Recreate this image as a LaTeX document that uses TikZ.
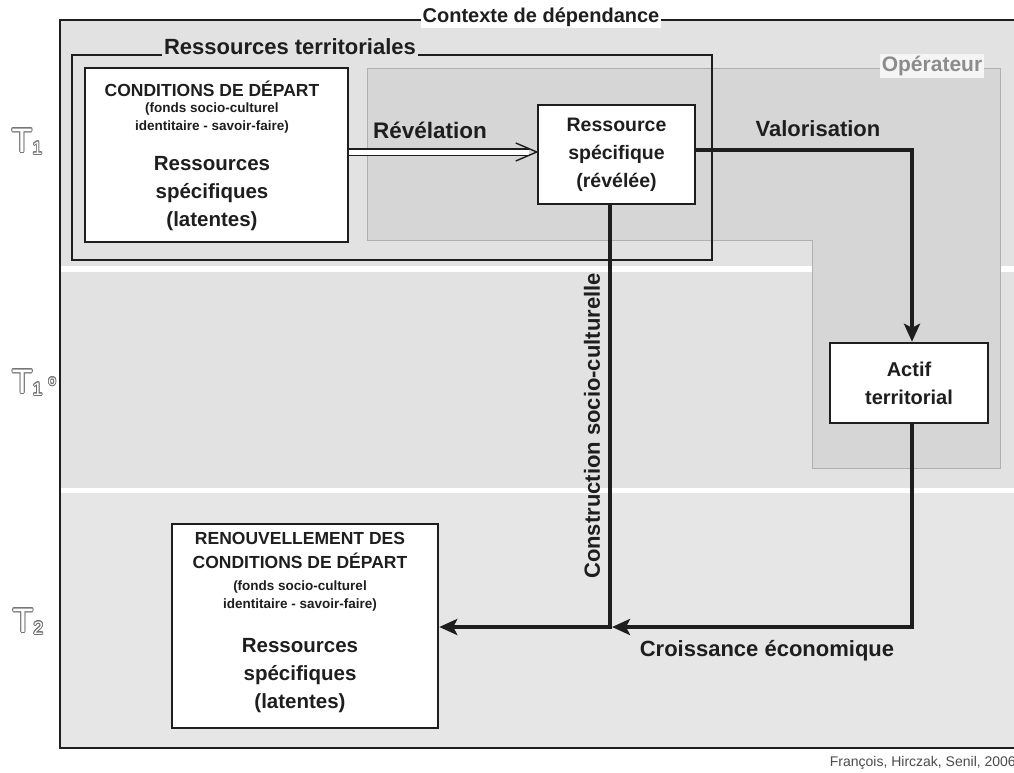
\documentclass[tikz,border=0pt]{standalone}
\usepackage{fontspec}
\setmainfont{Liberation Sans}
\usepackage[copies]{contour}
\contourlength{0.8pt}
\usetikzlibrary{arrows.meta}
\definecolor{bandgray}{HTML}{E2E2E2}
\definecolor{opgray}{HTML}{D6D6D6}
\definecolor{ink}{HTML}{1E1E1E}
\definecolor{opline}{HTML}{B0B0B0}
\newcommand{\fs}[2]{\fontsize{#1}{#2}\selectfont\bfseries}
\begin{document}
\begin{tikzpicture}[x=1pt,y=-1pt,
  box/.style={draw=ink, line width=2.5pt, fill=white, align=center, inner sep=0pt, text=ink, font=\bfseries},
  frame/.style={draw=ink, line width=2.5pt},
  flow/.style={draw=ink, line width=4.5pt, -{Stealth[length=18pt,width=16pt,inset=4pt]}},
  lbl/.style={text=ink, inner sep=2pt},
  txt/.style={text=ink, align=center, anchor=north, inner sep=0pt},
  tlabel/.style={font=\fontsize{34}{34}\selectfont, inner sep=0pt}
]
\useasboundingbox (0,0) rectangle (1014,773);
\fill[white] (0,0) rectangle (1014,773);
% bands
\fill[bandgray] (60,20) rectangle (1014,266);
\fill[bandgray] (60,272) rectangle (1014,488);
\fill[bandgray!85] (60,493) rectangle (1014,748);
% operator region
\filldraw[fill=opgray, draw=opline, line width=0.8pt]
  (367,68) -- (1000,68) -- (1000,468) -- (812,468) -- (812,240) -- (367,240) -- cycle;
% context frame
\draw[frame] (1016,20) -- (60,20) -- (60,748) -- (1016,748);
\node[lbl, fill=white, font=\fs{20}{20}] (ctx) at (541,17) {Contexte de dépendance};
% ressources territoriales frame
\node[frame, minimum width=640pt, minimum height=205pt, inner sep=0pt] (rt) at (392,157.5) {};
\node[lbl, fill=bandgray, font=\fs{22}{22}] (rtl) at (290,47) {Ressources territoriales};
% operator label
\node[text=black!45, fill=bandgray!35, font=\fs{21}{21}, inner sep=2pt] (opl) at (932,66) {Opérateur};
% boxes
\node[box, minimum width=263pt, minimum height=174pt] (cond) at (216.5,155) {};
\node[txt, font=\fs{17.5}{18}] (condt) at (212,81) {CONDITIONS DE DÉPART};
\node[txt, font=\fs{13.5}{18}] (conds) at (212,103) {(fonds socio-culturel\\ identitaire - savoir-faire)};
\node[text=ink, align=center, font=\fs{20.5}{28}] (condr) at (212,194) {Ressources\\ spécifiques\\ (latentes)};

\node[box, minimum width=157pt, minimum height=99pt, font=\fs{19.5}{28}] (rs) at (616.5,154.5) {Ressource\\ spécifique\\ (révélée)};
\node[box, minimum width=158pt, minimum height=80pt, font=\fs{20}{28}] (actif) at (909,383) {Actif\\ territorial};
\node[box, minimum width=266pt, minimum height=204pt] (ren) at (305,626) {};
\node[txt, font=\fs{17.5}{24}] (rent) at (300,532) {RENOUVELLEMENT DES\\ CONDITIONS DE DÉPART};
\node[txt, font=\fs{13.5}{18}] (rens) at (300,581) {(fonds socio-culturel\\ identitaire - savoir-faire)};
\node[text=ink, align=center, font=\fs{20.5}{28}] (renr) at (300,676) {Ressources\\ spécifiques\\ (latentes)};

% labels
\node[lbl, font=\fs{22.5}{23}] (rev) at (430,130) {Révélation};
\node[lbl, font=\fs{22}{22}] (val) at (818,129) {Valorisation};
\node[lbl, font=\fs{22}{22}] (cro) at (767,651) {Croissance économique};
\node[lbl, rotate=90, font=\fs{22}{22}] (con) at (592,426) {Construction socio-culturelle};

% coordinates
\coordinate (rsout) at (610,204);
\coordinate (meet) at (612,627);
\coordinate (valout) at (695,150);
\coordinate (revin) at ([xshift=-8pt]rs.west |- 0,152);
\coordinate (revtip) at (rs.west |- 0,152);

% connectors
\draw[ink, line width=1.4pt, double=white, double distance=5pt] (cond.east |- 0,152) -- (revin);
\draw[ink, line width=1.4pt, line join=miter] ([xshift=-21pt,yshift=-9pt]revtip) -- (revtip) -- ([xshift=-21pt,yshift=9pt]revtip);
\draw[flow] (valout) -| (actif.north -| 912,0);
\draw[flow] (actif.south -| 912,0) |- (meet);
\draw[flow] (rsout) |- (ren.east |- 0,627);

% time labels
\node[tlabel] (t1) at (27,142) {\contour{black!55}{\color{white}T\raisebox{-2pt}{\fontsize{18}{18}\selectfont 1}}};
\node[tlabel] (t1b) at (34,383) {\contour{black!55}{\color{white}T\raisebox{-2pt}{\fontsize{18}{18}\selectfont 1}\,\fontsize{14}{14}\selectfont\raisebox{8pt}{o}}};
\node[tlabel] (t2) at (28,622) {\contour{black!55}{\color{white}T\raisebox{-2pt}{\fontsize{18}{18}\selectfont 2}}};

% credit
\node[anchor=east, text=black!70, font=\fontsize{14}{14}\selectfont, inner sep=0pt] (cred) at (1016,763) {François, Hirczak, Senil, 2006};
\end{tikzpicture}
\end{document}
